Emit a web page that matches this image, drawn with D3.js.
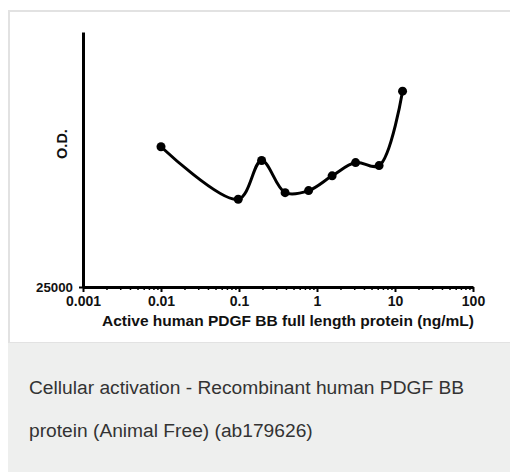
<!DOCTYPE html>
<html>
<head>
<meta charset="utf-8">
<script src="https://d3js.org/d3.v7.min.js"></script>
<style>
  body { margin: 0; background: #fff; }
  svg { display: block; }
</style>
</head>
<body>
<div id="chart"></div>
<script>
'use strict';

// Concentration (ng/mL) and O.D.
const concentrations = [0.01, 0.0977, 0.195, 0.39, 0.78, 1.5625, 3.125, 6.25, 12.5];
const odValues = [38750, 33600, 37400, 34250, 34450, 35900, 37200, 36900, 44200];
const xTicks = [0.001, 0.01, 0.1, 1, 10, 100];
const xTickLabels = ['0.001', '0.01', '0.1', '1', '10', '100'];
const yTicks = [25000];
const captionLines = [
  'Cellular activation - Recombinant human PDGF BB',
  'protein (Animal Free) (ab179626)'
];

(function() {
  const width = 510;
  const height = 472;
  const font = '"Liberation Sans", Arial, sans-serif';

  const svg = d3.select('#chart')
    .append('svg')
    .attr('width', width)
    .attr('height', height);

  // Figure panel and caption block
  svg.append('rect')
    .attr('x', 9)
    .attr('y', 11)
    .attr('width', width)
    .attr('height', 332)
    .attr('fill', '#fff')
    .attr('stroke', '#e2e2e2')
    .attr('stroke-width', 2);

  svg.append('rect')
    .attr('x', 8)
    .attr('y', 343)
    .attr('width', width - 8)
    .attr('height', height - 343)
    .attr('fill', '#eeefee');

  svg.selectAll('.caption')
    .data(captionLines)
    .enter()
    .append('text')
    .attr('class', 'caption')
    .attr('x', 29)
    .attr('y', (d, i) => 394 + i * 43)
    .attr('fill', '#333')
    .style('font-family', font)
    .style('font-size', '19.2px')
    .text(d => d);

  // Scales
  const x = d3.scaleLog()
    .domain([0.001, 100])
    .range([83, 473]);

  const y = d3.scaleLinear()
    .domain([25000, 50000])
    .range([287, 32]);

  const g = svg.append('g');

  // Minor ticks on the x axis
  const minorTicks = [];
  for (let d = 0.001; d < 100; d *= 10) {
    for (let k = 2; k < 10; k++) minorTicks.push(+(d * k).toPrecision(3));
  }

  g.append('g')
    .attr('transform', 'translate(0,287)')
    .call(d3.axisBottom(x).tickValues(minorTicks).tickSize(3).tickFormat(''))
    .call(a => a.select('.domain').remove())
    .call(a => a.selectAll('line').attr('stroke', '#000').attr('stroke-width', 1.5));

  // Major x axis
  const xAxis = g.append('g')
    .attr('transform', 'translate(0,287)')
    .call(d3.axisBottom(x)
      .tickValues(xTicks)
      .tickSize(5)
      .tickSizeOuter(0)
      .tickFormat((d, i) => xTickLabels[i]));

  xAxis.select('.domain').attr('stroke', '#000').attr('stroke-width', 3);
  xAxis.selectAll('line').attr('stroke', '#000').attr('stroke-width', 2);
  xAxis.selectAll('text')
    .attr('y', 9)
    .attr('fill', '#111')
    .style('font-family', font)
    .style('font-size', '14px')
    .style('font-weight', 'bold');

  // y axis
  const yAxis = g.append('g')
    .attr('transform', 'translate(83,0)')
    .call(d3.axisLeft(y)
      .tickValues(yTicks)
      .tickSize(4)
      .tickSizeOuter(0)
      .tickFormat(d3.format('d')));

  yAxis.select('.domain').attr('stroke', '#000').attr('stroke-width', 3);
  yAxis.selectAll('line').attr('stroke', '#000').attr('stroke-width', 2);
  yAxis.selectAll('text')
    .attr('x', -10)
    .attr('fill', '#111')
    .style('font-family', font)
    .style('font-size', '13.3px')
    .style('font-weight', 'bold');

  // Axis titles
  g.append('text')
    .attr('x', 288)
    .attr('y', 326)
    .attr('text-anchor', 'middle')
    .attr('fill', '#111')
    .style('font-family', font)
    .style('font-size', '15.5px')
    .style('font-weight', 'bold')
    .text('Active human PDGF BB full length protein (ng/mL)');

  g.append('text')
    .attr('transform', 'translate(67,144) rotate(-90)')
    .attr('text-anchor', 'middle')
    .attr('fill', '#111')
    .style('font-family', font)
    .style('font-size', '14.5px')
    .style('font-weight', 'bold')
    .text('O.D.');

  // Smoothed line and markers
  const points = concentrations.map((c, i) => ({ c: c, v: odValues[i] }));

  const line = d3.line()
    .x(d => x(d.c))
    .y(d => y(d.v))
    .curve(d3.curveCatmullRom.alpha(0.5));

  g.append('path')
    .datum(points)
    .attr('d', line)
    .attr('fill', 'none')
    .attr('stroke', '#000')
    .attr('stroke-width', 3);

  g.selectAll('.dot')
    .data(points)
    .enter()
    .append('circle')
    .attr('class', 'dot')
    .attr('cx', d => x(d.c))
    .attr('cy', d => y(d.v))
    .attr('r', 4.5)
    .attr('fill', '#000');
})();
</script>
</body>
</html>
